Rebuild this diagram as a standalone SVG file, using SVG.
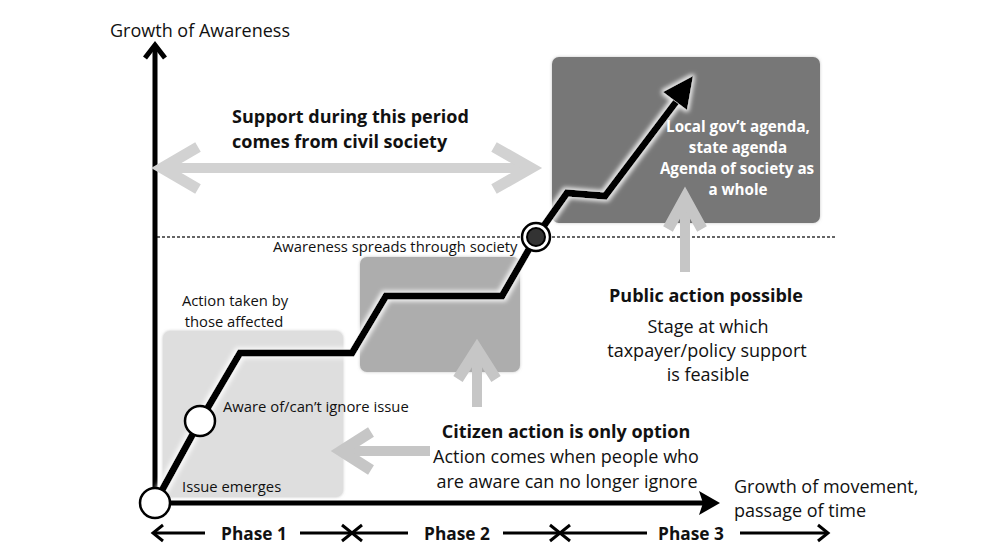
<svg xmlns="http://www.w3.org/2000/svg" width="991" height="557" viewBox="0 0 991 557">
<style>
  text { font-family: "Open Sans", "Noto Sans", "DejaVu Sans", sans-serif; fill: #111; }
  .lbl { font-size: 18px; }
  .sm { font-size: 14.8px; }
  .b { font-weight: bold; font-size: 18px; }
  .p { font-weight: bold; font-size: 17.3px; }
  .w { fill: #fff; font-weight: bold; font-size: 15.2px; }
  .mid { text-anchor: middle; }
  .ax { stroke: #000; stroke-width: 5; fill: none; }
  .ph { stroke: #000; stroke-width: 3; fill: none; stroke-linejoin: miter; }
  .ga { stroke-width: 11; fill: none; stroke-linejoin: miter; stroke-miterlimit: 10; }
</style>
<defs>
  <filter id="glow" x="-10%" y="-10%" width="120%" height="120%">
    <feMorphology in="SourceAlpha" operator="dilate" radius="2" result="d"/>
    <feGaussianBlur in="d" stdDeviation="2" result="bl"/>
    <feFlood flood-color="#ffffff" flood-opacity="0.85"/>
    <feComposite in2="bl" operator="in" result="g"/>
    <feMerge><feMergeNode in="g"/><feMergeNode in="SourceGraphic"/></feMerge>
  </filter>
  <filter id="sh" x="-10%" y="-10%" width="120%" height="120%">
    <feDropShadow dx="0" dy="0" stdDeviation="1.5" flood-color="#888" flood-opacity="0.5"/>
  </filter>
</defs>
<rect width="991" height="557" fill="#fff"/>

<!-- stage boxes -->
<g id="phase1-box"><rect x="163" y="331" width="180" height="166" rx="7" fill="#dedede" filter="url(#sh)"/></g>
<g id="phase2-box"><rect x="360" y="257" width="160" height="115" rx="7" fill="#adadad" filter="url(#sh)"/></g>
<g id="phase3-box"><rect x="552" y="57" width="268" height="166" rx="7" fill="#777777" filter="url(#sh)"/></g>

<!-- threshold line -->
<g id="threshold">
  <line x1="157" y1="237" x2="835" y2="237" stroke="#333" stroke-width="1.5" stroke-dasharray="3 2"/>
  <text class="sm" x="273" y="252">Awareness spreads through society</text>
</g>

<g id="connectors">
  <!-- axes -->
  <line class="ax" x1="155" y1="503" x2="155" y2="48"/>
  <polyline class="ax" points="145,58 155,45 165,58" stroke-linejoin="miter"/>
  <line class="ax" x1="155" y1="503" x2="708" y2="503"/>
  <polygon points="699,491 720,503 699,515 703,503" fill="#000"/>
  <!-- grey support arrows -->
  <g stroke="#d2d2d2">
    <line x1="165" y1="168" x2="528" y2="168" stroke-width="10"/>
    <polyline class="ga" points="198,147 162,168 198,189"/>
    <polyline class="ga" points="494,147 531,168 494,189"/>
  </g>
  <g stroke="#c6c6c6">
    <line x1="685" y1="272" x2="685" y2="200" stroke-width="10"/>
    <polyline class="ga" points="668,229 685,198 702,229"/>
    <line x1="477" y1="407" x2="477" y2="352" stroke-width="10"/>
    <polyline class="ga" points="458,379 477,349 496,379"/>
    <line x1="430" y1="451" x2="345" y2="451" stroke-width="10"/>
    <polyline class="ga" points="371,432 341,451 371,470"/>
  </g>
  <!-- growth path -->
  <g filter="url(#glow)">
    <polyline points="155,503 200,421 240,353 352,353 386,296 502,296 536,237 567,193 605,196 676,102" fill="none" stroke="#000" stroke-width="7" stroke-linejoin="miter"/>
    <polygon points="693,76 663,92 687,110" fill="#000"/>
  </g>
  <!-- phase arrows -->
  <line class="ph" x1="153" y1="533" x2="205" y2="533"/>
  <polyline class="ph" points="163,525 153,533 163,541"/>
  <line class="ph" x1="300" y1="533" x2="408" y2="533"/>
  <polyline class="ph" points="342,525 352,533 342,541"/>
  <polyline class="ph" points="362,525 352,533 362,541"/>
  <line class="ph" x1="503" y1="533" x2="647" y2="533"/>
  <polyline class="ph" points="550,525 560,533 550,541"/>
  <polyline class="ph" points="570,525 560,533 570,541"/>
  <line class="ph" x1="740" y1="533" x2="828" y2="533"/>
  <polyline class="ph" points="818,525 828,533 818,541"/>
</g>

<!-- milestone nodes -->
<g id="issue-emerges">
  <circle cx="155" cy="503" r="15" fill="#fff" stroke="#000" stroke-width="2.5"/>
  <text class="sm" x="182" y="492">Issue emerges</text>
</g>
<g id="aware">
  <circle cx="200" cy="421" r="15" fill="#fff" stroke="#000" stroke-width="2.5"/>
  <text class="sm" x="223" y="412">Aware of/can’t ignore issue</text>
</g>
<g id="action-affected">
  <text class="sm mid" x="235" y="306">Action taken by</text>
  <text class="sm mid" x="234" y="327">those affected</text>
</g>
<g id="spreads">
  <circle cx="536" cy="237" r="14" fill="#fff" stroke="#000" stroke-width="2.5"/>
  <circle cx="536" cy="237" r="9" fill="#333" stroke="#000" stroke-width="2"/>
</g>

<!-- axis labels -->
<g id="y-label"><text class="lbl" x="110" y="37">Growth of Awareness</text></g>
<g id="x-label">
  <text class="lbl" x="734" y="493">Growth of movement,</text>
  <text class="lbl" x="734" y="517">passage of time</text>
</g>

<g id="civil-support">
  <text class="b" x="232" y="123">Support during this period</text>
  <text class="b" x="232" y="148">comes from civil society</text>
</g>

<g id="agenda">
  <text class="w mid" x="738" y="132">Local gov’t agenda,</text>
  <text class="w mid" x="738" y="153">state agenda</text>
  <text class="w mid" x="737" y="174">Agenda of society as</text>
  <text class="w mid" x="738" y="195">a whole</text>
</g>

<g id="public-action">
  <text class="b mid" x="706" y="302">Public action possible</text>
  <text class="lbl mid" x="708" y="333">Stage at which</text>
  <text class="lbl mid" x="707" y="357">taxpayer/policy support</text>
  <text class="lbl mid" x="708" y="381">is feasible</text>
</g>

<g id="citizen-action">
  <text class="b mid" x="566" y="438">Citizen action is only option</text>
  <text class="lbl mid" x="566" y="463">Action comes when people who</text>
  <text class="lbl mid" x="567" y="488">are aware can no longer ignore</text>
</g>

<g id="phases">
  <text class="p mid" x="254" y="540">Phase 1</text>
  <text class="p mid" x="457" y="540">Phase 2</text>
  <text class="p mid" x="691" y="540">Phase 3</text>
</g>
</svg>
